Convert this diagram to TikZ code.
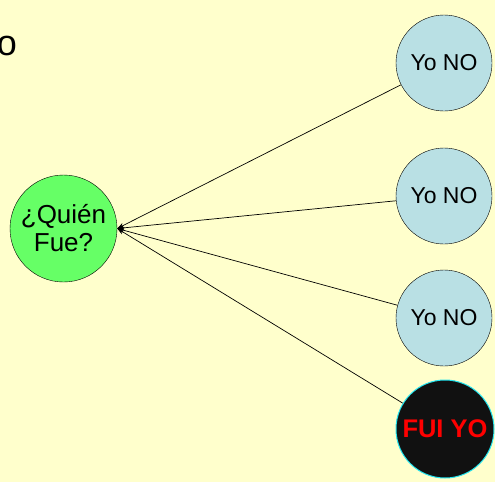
\documentclass[tikz,border=0pt]{standalone}
\usepackage{fontspec}
\setmainfont{Liberation Sans}
\usetikzlibrary{arrows.meta}
\definecolor{bgyellow}{HTML}{FFFFCC}
\definecolor{qgreen}{HTML}{66FF66}
\definecolor{nblue}{HTML}{B9E0E4}
\definecolor{darkfill}{HTML}{111111}
\definecolor{ringcyan}{HTML}{22E5F0}
\tikzset{
  asker/.style={circle, draw=black, fill=qgreen, minimum size=107pt, inner sep=0pt,
    align=center, font=\fontsize{26}{28}\selectfont},
  denier/.style={circle, draw=black, fill=nblue, minimum size=96pt, inner sep=0pt,
    font=\fontsize{23}{26}\selectfont},
  culprit/.style={circle, draw=ringcyan, line width=1pt, fill=darkfill, minimum size=98pt,
    inner sep=0pt, text=red, font=\bfseries\fontsize{25.5}{28}\selectfont},
  accuse/.style={draw=black, line width=0.7pt, -{Stealth[length=7pt,width=5pt]}}
}
\begin{document}
\begin{tikzpicture}[x=1pt,y=1pt]
  \fill[bgyellow] (0,0) rectangle (495,-482);
  \useasboundingbox (0,0) rectangle (495,-482);
  \begin{scope}
    \clip (0,0) rectangle (495,-482);
    \node[anchor=base east, font=\fontsize{36}{40}\selectfont, inner sep=0pt] (title) at (17,-55) {o};
    \node[asker] (q) at (63.5,-228.5) {¿Quién\\Fue?};
    \node[denier] (y1) at (444,-63) {Yo NO};
    \node[denier] (y2) at (444,-196) {Yo NO};
    \node[denier] (y3) at (444,-318) {Yo NO};
    \node[culprit] (fy) at (445,-429) {FUI YO};
    \draw[accuse] (y1) -- (q.east);
    \draw[accuse] (y2) -- (q.east);
    \draw[accuse] (y3) -- (q.east);
    \draw[accuse] (fy) -- (q.east);
  \end{scope}
\end{tikzpicture}
\end{document}
